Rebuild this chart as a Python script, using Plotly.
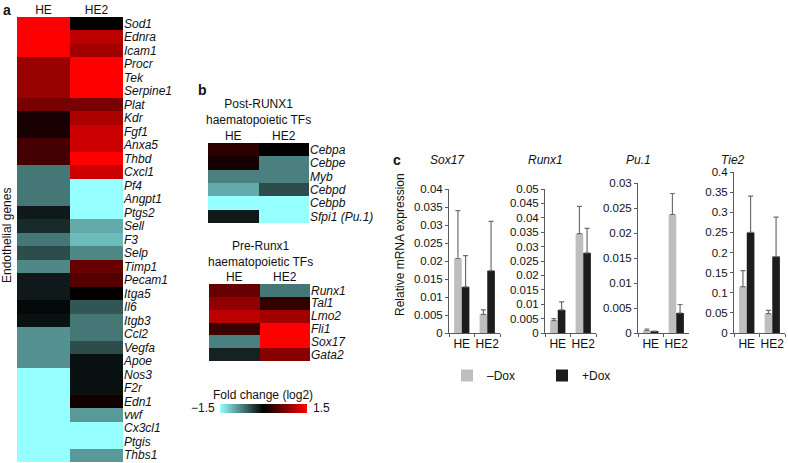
import plotly.graph_objects as go

W, H = 788, 463
FONT = "Liberation Sans"

# ---------------- data ----------------
cols = ["HE", "HE2"]

endo_genes = ["Sod1", "Ednra", "Icam1", "Procr", "Tek", "Serpine1", "Plat", "Kdr", "Fgf1",
              "Anxa5", "Thbd", "Cxcl1", "Pf4", "Angpt1", "Ptgs2", "Sell", "F3", "Selp",
              "Timp1", "Pecam1", "Itga5", "Il6", "Itgb3", "Ccl2", "Vegfa", "Apoe", "Nos3",
              "F2r", "Edn1", "vwf", "Cx3cl1", "Ptgis", "Thbs1"]
endo_he = [1.5, 1.5, 1.5, 0.9, 0.9, 0.9, 0.7, 0.15, 0.15, 0.4, 0.4, -0.7, -0.7, -0.7,
           -0.15, -0.25, -0.7, -0.45, -0.8, -0.15, -0.15, -0.05, -0.1, -0.85, -0.85, -0.85,
           -1.5, -1.5, -1.5, -1.5, -1.5, -1.5, -1.5]
endo_he2 = [0.02, 1.1, 0.95, 1.5, 1.5, 1.5, 0.7, 1.0, 1.2, 1.2, 1.5, 1.2, -1.5, -1.5,
            -1.5, -1.0, -1.1, -0.8, 0.6, 0.5, 0.02, -0.5, -0.7, -0.7, -0.45, -0.1, -0.1,
            -0.1, 0.1, -0.9, -1.5, -1.5, -0.9]

post_genes = ["Cebpa", "Cebpe", "Myb", "Cebpd", "Cebpb", "Sfpi1 (Pu.1)"]
post_he = [0.25, 0.12, -0.75, -1.0, -1.5, -0.15]
post_he2 = [0.02, -0.75, -0.75, -0.45, -1.5, -1.5]

pre_genes = ["Runx1", "Tal1", "Lmo2", "Fli1", "Sox17", "Gata2"]
pre_he = [0.6, 0.85, 1.1, 0.35, -0.75, -0.2]
pre_he2 = [-0.7, 0.3, 0.95, 1.5, 1.5, 0.8]

groups = ["HE", "HE2"]
qpcr_genes = ["Sox17", "Runx1", "Pu.1", "Tie2"]
minus_dox = {"Sox17": [0.0207, 0.0052], "Runx1": [0.0043, 0.0345],
             "Pu.1": [0.0005, 0.0237], "Tie2": [0.115, 0.048]}
minus_err = {"Sox17": [0.0133, 0.0012], "Runx1": [0.0007, 0.0095],
             "Pu.1": [0.0003, 0.0042], "Tie2": [0.040, 0.008]}
plus_dox = {"Sox17": [0.0128, 0.0173], "Runx1": [0.0080, 0.0278],
            "Pu.1": [0.0003, 0.0040], "Tie2": [0.250, 0.190]}
plus_err = {"Sox17": [0.0087, 0.0137], "Runx1": [0.0028, 0.0085],
            "Pu.1": [0.0001, 0.0017], "Tie2": [0.090, 0.098]}
y_ticks = {
    "Sox17": ["0", "0.005", "0.01", "0.015", "0.02", "0.025", "0.03", "0.035", "0.04"],
    "Runx1": ["0", "0.005", "0.01", "0.015", "0.02", "0.025", "0.03", "0.035", "0.04", "0.045", "0.05"],
    "Pu.1": ["0", "0.005", "0.01", "0.015", "0.02", "0.025", "0.03"],
    "Tie2": ["0", "0.05", "0.1", "0.15", "0.2", "0.25", "0.3", "0.35", "0.4"],
}

# ---------------- helpers ----------------
def px(x):
    return x / W

def py(y):
    return 1 - y / H

colorscale = [[0.0, "rgb(150,255,255)"], [0.5, "rgb(0,0,0)"], [1.0, "rgb(255,0,0)"]]

fig = go.Figure()

heat_specs = [
    ("x", "y", endo_genes, endo_he, endo_he2, (17, 123), (17, 462)),
    ("x2", "y2", post_genes, post_he, post_he2, (208, 309), (143, 223)),
    ("x3", "y3", pre_genes, pre_he, pre_he2, (209, 310), (284, 361)),
]
layout_axes = {}
for i, (xa, ya, genes, a, b, (x0, x1), (y0, y1)) in enumerate(heat_specs):
    fig.add_trace(go.Heatmap(
        z=[[p, q] for p, q in zip(a, b)], x=cols, y=genes,
        coloraxis="coloraxis", xaxis=xa, yaxis=ya, xgap=0, ygap=0,
        hoverinfo="skip"))
    xn = "xaxis" if xa == "x" else "xaxis" + xa[1:]
    yn = "yaxis" if ya == "y" else "yaxis" + ya[1:]
    layout_axes[xn] = dict(domain=[px(x0), px(x1)], anchor=ya, side="top",
                           type="category", range=[-0.5, 1.5], automargin=False,
                           tickmode="array", tickvals=cols, ticktext=cols,
                           showgrid=False, zeroline=False, ticks="", showline=False,
                           tickfont=dict(size=12, color="#111"))
    layout_axes[yn] = dict(domain=[py(y1), py(y0)], anchor=xa, side="right",
                           type="category", range=[len(genes) - 0.5, -0.5], automargin=False,
                           tickmode="array", tickvals=genes, ticktext=genes,
                           showgrid=False, zeroline=False,
                           ticks="", showline=False,
                           tickfont=dict(size=12, color="#111", style="italic"))

# ---------------- bar charts ----------------
bar_domains = {
    "Sox17": ((449, 500), (189, 333)),
    "Runx1": ((545, 596), (189, 333)),
    "Pu.1": ((638, 689), (183, 333)),
    "Tie2": ((734, 785), (172, 333)),
}
y_max = {"Sox17": 0.04, "Runx1": 0.05, "Pu.1": 0.03, "Tie2": 0.4}

for k, g in enumerate(qpcr_genes):
    n = 4 + k
    xa, ya = f"x{n}", f"y{n}"
    for name, vals, errs, col, leg in [
            ("\u2013Dox", minus_dox[g], minus_err[g], "rgb(190,190,190)", "legend"),
            ("+Dox", plus_dox[g], plus_err[g], "rgb(28,28,28)", "legend2")]:
        fig.add_trace(go.Bar(
            x=groups, y=vals, name=name, marker=dict(color=col, line=dict(width=0)),
            error_y=dict(type="data", array=errs, arrayminus=[0] * len(errs),
                         symmetric=False, color="rgb(110,110,110)", thickness=1.2, width=2.5),
            xaxis=xa, yaxis=ya, showlegend=(k == 0), legend=leg, legendgroup=name,
            hoverinfo="skip"))
    (x0, x1), (y0, y1) = bar_domains[g]
    ticks_txt = y_ticks[g]
    layout_axes[f"xaxis{n}"] = dict(domain=[px(x0), px(x1)], anchor=ya, showgrid=False,
                                   automargin=False, tickangle=0,
                                   zeroline=False, showline=True, linecolor="rgb(90,90,90)",
                                   linewidth=1, ticks="outside", ticklen=3, tickson="boundaries",
                                   tickcolor="rgb(90,90,90)",
                                   tickfont=dict(size=12, color="#111"))
    layout_axes[f"yaxis{n}"] = dict(domain=[py(y1), py(y0)], anchor=xa, range=[0, y_max[g]],
                                   automargin=False,
                                   tickvals=[float(t) for t in ticks_txt], ticktext=ticks_txt,
                                   showgrid=False, zeroline=False, showline=True,
                                   linecolor="rgb(90,90,90)", linewidth=1, ticks="outside",
                                   ticklen=3, tickcolor="rgb(90,90,90)",
                                   tickfont=dict(size=11.5, color="#111"))

annotations = [
    dict(text="<b>a</b>", x=px(1), y=py(0), xanchor="left", yanchor="top", font=dict(size=14)),
    dict(text="<b>b</b>", x=px(196), y=py(80), xanchor="left", yanchor="top", font=dict(size=14)),
    dict(text="<b>c</b>", x=px(391), y=py(150), xanchor="left", yanchor="top", font=dict(size=14)),
    dict(text="Endothelial genes", x=px(7), y=py(236), textangle=-90, font=dict(size=12)),
    dict(text="Post-RUNX1<br>haematopoietic TFs", x=px(258), y=py(112), font=dict(size=12)),
    dict(text="Pre-Runx1<br>haematopoietic TFs", x=px(260), y=py(254), font=dict(size=12)),
    dict(text="Fold change (log2)", x=px(263), y=py(395), font=dict(size=12)),
    dict(text="\u22121.5", x=px(217), y=py(408), xanchor="right", font=dict(size=12)),
    dict(text="1.5", x=px(311), y=py(408), xanchor="left", font=dict(size=12)),
    dict(text="Relative mRNA expression", x=px(400), y=py(245), textangle=-90, font=dict(size=12)),
]
title_x = {"Sox17": 447, "Runx1": 545, "Pu.1": 638, "Tie2": 733}
for g in qpcr_genes:
    annotations.append(dict(text=f"<i>{g}</i>", x=px(title_x[g]), y=py(160),
                            font=dict(size=12)))
for a in annotations:
    a.update(xref="paper", yref="paper", showarrow=False)
    a.setdefault("xanchor", "center")
    a.setdefault("yanchor", "middle")
    a["font"].setdefault("color", "#111")

legend_common = dict(orientation="h", xanchor="left", yanchor="top", font=dict(size=12),
                     bgcolor="rgba(0,0,0,0)", itemwidth=30)

fig.update_layout(
    width=W, height=H, margin=dict(l=0, r=0, t=0, b=0, autoexpand=False),
    paper_bgcolor="white", plot_bgcolor="white",
    font=dict(family=FONT, color="#111"),
    barmode="group", bargap=0.4, bargroupgap=0.0,
    coloraxis=dict(colorscale=colorscale, cmin=-1.5, cmax=1.5,
                   colorbar=dict(orientation="h", x=px(263), xanchor="center",
                                 y=py(404), yanchor="top", len=87, lenmode="pixels",
                                 thickness=9, outlinewidth=0, xpad=0, ypad=0,
                                 showticklabels=False, ticks="", title=dict(text=""))),
    legend=dict(x=px(447), y=py(361), **legend_common),
    legend2=dict(x=px(542), y=py(361), **legend_common),
    annotations=annotations,
    **layout_axes,
)

fig.write_html("out.html", config={"displayModeBar": False},
               post_script="document.body.style.margin='0px';")
